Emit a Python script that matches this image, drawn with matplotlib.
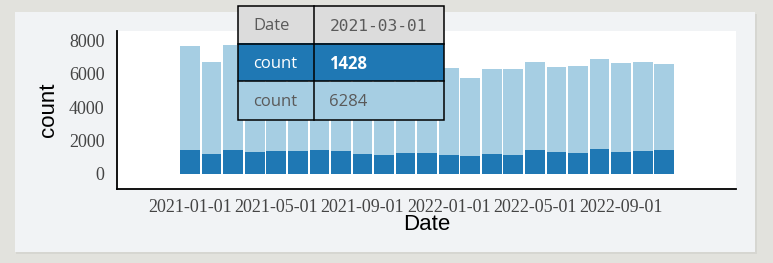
import matplotlib
matplotlib.use("Agg")
from matplotlib import pyplot as plt
from matplotlib.patches import Rectangle

# monthly counts, stacked: dark part at the bottom, light part on top
months = ["2021-01-01", "2021-02-01", "2021-03-01", "2021-04-01",
          "2021-05-01", "2021-06-01", "2021-07-01", "2021-08-01",
          "2021-09-01", "2021-10-01", "2021-11-01", "2021-12-01",
          "2022-01-01", "2022-02-01", "2022-03-01", "2022-04-01",
          "2022-05-01", "2022-06-01", "2022-07-01", "2022-08-01",
          "2022-09-01", "2022-10-01", "2022-11-01"]
dark_counts = [1422, 1182, 1428, 1300, 1400, 1360, 1420, 1400,
               1200, 1140, 1280, 1260, 1140, 1100, 1200, 1140,
               1420, 1300, 1280, 1480, 1340, 1360, 1440]
light_counts = [6261, 5523, 6284, 6100, 5900, 6140, 6180, 5800,
                5500, 5460, 5620, 5240, 5222, 4662, 5102, 5142,
                5303, 5102, 5203, 5403, 5323, 5383, 5183]
y_ticks = [0, 2000, 4000, 6000, 8000]
tick_every = 4

# hover tooltip shown on the picture
tip_rows = [("Date", months[2]),
            ("count", str(dark_counts[2])),
            ("count", str(light_counts[2]))]

DARK = "#1f78b4"
LIGHT = "#a6cee3"
W, H = 773, 263


def px_rect(fig, x0, y0, x1, y1, **kw):
    """rectangle given in pixel coords from the top left"""
    r = Rectangle((x0 / W, 1 - y1 / H), (x1 - x0) / W, (y1 - y0) / H,
                  transform=fig.transFigure, **kw)
    fig.add_artist(r)
    return r


def draw_tooltip(fig):
    left, mid, right = 237.5, 313.5, 443.5
    top, row_h = 5.5, 38
    fills = ["#dcdcdc", DARK, LIGHT]
    colors = ["#5a5a5a", "white", "#5a5a5a"]
    for i, (label, value) in enumerate(tip_rows):
        y0 = top + i * row_h
        px_rect(fig, left, y0, right, y0 + row_h, facecolor=fills[i],
                edgecolor="none", zorder=5)
        yc = 1 - (y0 + row_h / 2 + 1.8) / H
        fig.text((left + 16) / W, yc, label, color=colors[i], fontsize=12,
                 family="Open Sans", va="center", ha="left", zorder=6)
        if i == 0:
            fig.text((mid + 16) / W, yc, value, color=colors[i],
                     fontsize=11.7, family="DejaVu Sans Mono",
                     va="center", ha="left", zorder=6)
        else:
            fig.text((mid + 16) / W, yc, value, color=colors[i],
                     fontsize=12, family="Open Sans",
                     weight="bold" if i == 1 else "normal",
                     va="center", ha="left", zorder=6)
    # grid lines of the tooltip table
    bottom = top + 3 * row_h
    px_rect(fig, left, top, right, bottom, facecolor="none",
            edgecolor="black", linewidth=1.1, zorder=7)
    for i in (1, 2):
        y = 1 - (top + i * row_h) / H
        fig.add_artist(plt.Line2D([left / W, right / W], [y, y],
                                  color="black", linewidth=1.1, zorder=7))
    fig.add_artist(plt.Line2D([mid / W, mid / W],
                              [1 - top / H, 1 - bottom / H],
                              color="black", linewidth=1.1, zorder=7))


def main():
    fig = plt.figure(figsize=(W / 100, H / 100), dpi=100)
    fig.patch.set_facecolor("#e2e2dd")
    # light panel behind the chart
    px_rect(fig, 16, 14, 757, 254, facecolor="#d6d6d1", edgecolor="none",
            zorder=-2)
    px_rect(fig, 15, 12, 755, 252, facecolor="#f1f3f5", edgecolor="none",
            zorder=-1)

    ax = fig.add_axes([117 / W, 1 - 189 / H, (736 - 117) / W, 158 / H])
    ax.set_facecolor("white")
    xs = list(range(len(months)))
    ax.bar(xs, dark_counts, width=0.915, color=DARK, linewidth=0)
    ax.bar(xs, light_counts, width=0.915, bottom=dark_counts, color=LIGHT,
           linewidth=0)

    ax.set_xlim(-3.39, 25.33)
    ax.set_ylim(-900, 8580)
    ax.set_yticks(y_ticks)
    ax.set_xticks(xs[::tick_every])
    ax.set_xticklabels(months[::tick_every])
    ax.tick_params(length=0, labelsize=13, labelcolor="#444444")
    ax.tick_params(axis="y", pad=9)
    ax.tick_params(axis="x", pad=7)
    for lab in ax.get_xticklabels() + ax.get_yticklabels():
        lab.set_family("Liberation Serif")

    ax.set_xlabel("Date", fontsize=16, family="Liberation Sans",
                  labelpad=-1)
    ax.set_ylabel("count", fontsize=16, family="Liberation Sans",
                  labelpad=7)
    for side in ("top", "right"):
        ax.spines[side].set_visible(False)
    for side in ("left", "bottom"):
        ax.spines[side].set_linewidth(1.3)

    draw_tooltip(fig)
    fig.savefig("out.png", dpi=100, facecolor=fig.get_facecolor())


if __name__ == "__main__":
    main()
